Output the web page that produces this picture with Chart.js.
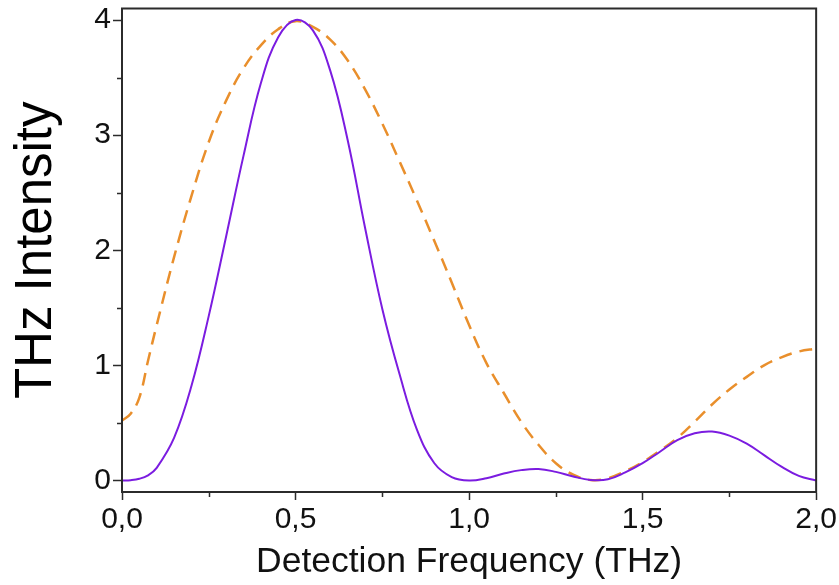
<!DOCTYPE html>
<html>
<head>
<meta charset="utf-8">
<script src="https://cdn.jsdelivr.net/npm/chart.js@4/dist/chart.umd.min.js"></script>
<style>
html,body{margin:0;padding:0;background:#fff;}
#wrap{width:839px;height:585px;position:relative;}
</style>
</head>
<body>
<div id="wrap"><canvas id="c" width="839" height="585"></canvas></div>
<script>
// Detection frequency (THz)
const freq = [0,0.025,0.05,0.075,0.1,0.15,0.2,0.25,0.3,0.35,0.4,0.45,0.5,0.55,0.6,0.65,0.7,0.75,0.8,0.85,0.9,0.95,1.0,
  1.05,1.1,1.15,1.2,1.25,1.3,1.35,1.4,1.45,1.5,1.55,1.6,1.65,1.7,1.75,1.8,1.85,1.9,1.95,2.0];
// Solid purple curve
const purpleValues = [0,0.003,0.015,0.045,0.11,0.37,0.82,1.43,2.12,2.82,3.45,3.85,4.0,3.91,3.56,2.96,2.2,1.49,0.92,0.44,0.15,0.03,0.0,
  0.02,0.06,0.09,0.1,0.075,0.035,0.005,0.01,0.07,0.15,0.25,0.35,0.41,0.425,0.39,0.32,0.22,0.12,0.04,0.0];
// Dashed orange curve
const orangeValues = [0.52,0.58,0.72,1.04,1.35,1.94,2.47,2.94,3.3,3.58,3.78,3.92,3.99,3.94,3.83,3.65,3.4,3.1,2.77,2.43,2.08,1.72,1.35,
  1.02,0.76,0.51,0.31,0.15,0.05,0.005,0.02,0.08,0.16,0.26,0.37,0.51,0.66,0.79,0.9,1.0,1.07,1.12,1.145];
const xTickValues = [0,0.5,1.0,1.5,2.0];
const yTickValues = [0,1,2,3,4];

const toPts = (xs, ys) => xs.map((x, i) => ({x: x, y: ys[i]}));
const fmtX = v => v.toFixed(1).replace('.', ',');

const frameAndMinor = {
  id: 'frameAndMinor',
  afterDraw(chart) {
    const ctx = chart.ctx, a = chart.chartArea;
    const xs = chart.scales.x, ys = chart.scales.y;
    ctx.save();
    ctx.strokeStyle = '#2b2b2b';
    ctx.lineWidth = 2;
    ctx.strokeRect(a.left, a.top, a.right - a.left, a.bottom - a.top);
    ctx.lineWidth = 1.5;
    ctx.beginPath();
    for (let v = 0.25; v < 2; v += 0.5) {
      const px = Math.round(xs.getPixelForValue(v)) + 0.5;
      ctx.moveTo(px, a.bottom); ctx.lineTo(px, a.bottom + 5);
    }
    for (let v = 0.5; v < 4; v += 1) {
      const py = Math.round(ys.getPixelForValue(v)) + 0.5;
      ctx.moveTo(a.left, py); ctx.lineTo(a.left - 5, py);
    }
    ctx.stroke();
    ctx.restore();
  }
};

new Chart(document.getElementById('c'), {
  type: 'line',
  data: {
    datasets: [
      {
        data: toPts(freq, purpleValues),
        borderColor: '#7b1ce0',
        borderWidth: 2,
        pointRadius: 0,
        tension: 0.4,
        fill: false
      },
      {
        data: toPts(freq, orangeValues),
        borderColor: '#e98f2c',
        borderWidth: 2.5,
        borderDash: [13, 8],
        pointRadius: 0,
        tension: 0.4,
        fill: false
      }
    ]
  },
  options: {
    responsive: false,
    animation: false,
    events: [],
    layout: {padding: {left: 0, right: 22, top: 8.5, bottom: 0}},
    plugins: {legend: {display: false}, tooltip: {enabled: false}},
    scales: {
      x: {
        type: 'linear',
        min: 0, max: 2,
        afterFit(s) { s.height = 93; },
        afterBuildTicks(s) { s.ticks = xTickValues.map(v => ({value: v})); },
        ticks: {
          callback: v => fmtX(v),
          color: '#111',
          font: {family: 'Liberation Sans, Arial, sans-serif', size: 30},
          padding: 2,
          maxRotation: 0,
          autoSkip: false
        },
        grid: {drawOnChartArea: false, drawTicks: true, tickLength: 8, tickWidth: 1.5, tickColor: '#2b2b2b'},
        border: {display: true, color: '#2b2b2b', width: 2},
        title: {
          display: true,
          text: 'Detection Frequency (THz)',
          color: '#111',
          font: {family: 'Liberation Sans, Arial, sans-serif', size: 35.5},
          padding: {top: 0, bottom: 1}
        }
      },
      y: {
        type: 'linear',
        min: -0.1, max: 4.1,
        afterFit(s) { s.width = 122; s.paddingTop = 0; s.paddingBottom = 0; },
        afterBuildTicks(s) { s.ticks = yTickValues.map(v => ({value: v})); },
        ticks: {
          callback: v => String(v),
          color: '#111',
          font: {family: 'Liberation Sans, Arial, sans-serif', size: 30},
          padding: 2
        },
        grid: {drawOnChartArea: false, drawTicks: true, tickLength: 9, tickWidth: 1.5, tickColor: '#2b2b2b'},
        border: {display: true, color: '#2b2b2b', width: 2},
        title: {
          display: true,
          text: 'THz Intensity',
          color: '#000',
          font: {family: 'Liberation Sans, Arial, sans-serif', size: 51},
          padding: {top: 6, bottom: 0}
        }
      }
    }
  },
  plugins: [frameAndMinor]
});
</script>
</body>
</html>
